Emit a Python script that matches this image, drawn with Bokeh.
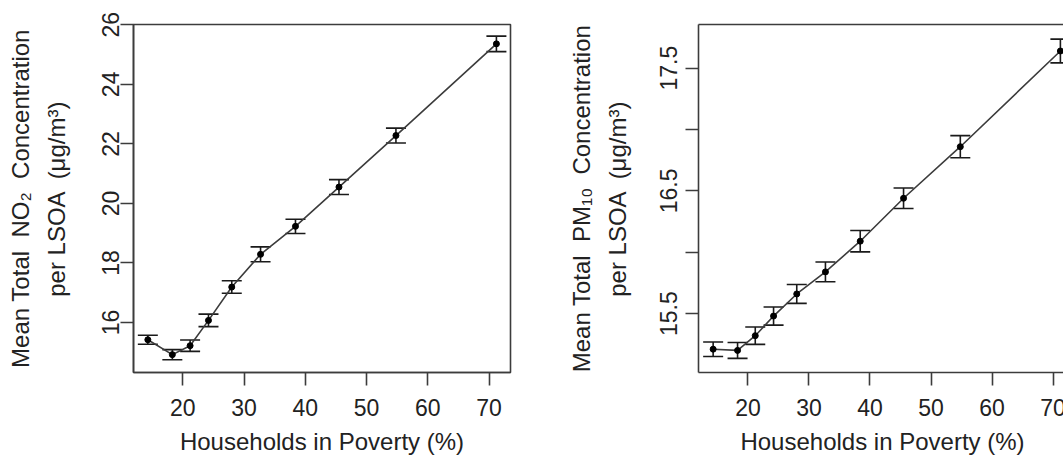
from bokeh.plotting import figure
from bokeh.models import (ColumnDataSource, Whisker, TeeHead, FixedTicker,
                          LinearAxis, Range1d)
from bokeh.layouts import row
from bokeh.embed import file_html
from bokeh.resources import INLINE

# ---- data ----
poverty_pct = [14.3, 18.3, 21.2, 24.2, 28.0, 32.7, 38.4, 45.5, 54.8, 71.2]
no2_mean = [15.42, 14.92, 15.22, 16.07, 17.19, 18.29, 19.23, 20.55, 22.28, 25.36]
no2_err = [0.15, 0.17, 0.19, 0.21, 0.21, 0.25, 0.24, 0.25, 0.25, 0.26]
pm10_mean = [15.21, 15.20, 15.32, 15.48, 15.66, 15.84, 16.09, 16.44, 16.86, 17.64]
pm10_err = [0.059, 0.065, 0.071, 0.074, 0.077, 0.081, 0.087, 0.083, 0.090, 0.097]

x_ticks = [20, 30, 40, 50, 60, 70]
no2_ticks = [16, 18, 20, 22, 24, 26]
pm10_ticks = [15.5, 16.5, 17.5]
pm10_minor = [16.0, 17.0]

x_label = "Households in Poverty (%)"
no2_label = "Mean Total \u00a0NO\u2082 \u00a0Concentration\nper LSOA \u00a0(\u03bcg/m\u00b3)"
pm10_label = "Mean Total \u00a0PM\u2081\u2080 \u00a0Concentration\nper LSOA \u00a0(\u03bcg/m\u00b3)"

FONT = "Liberation Sans"
FS = "23px"
FS_LAB = "24px"
TXT = "#222222"
LINE = "#3c3c3c"


def style_axis(ax):
    ax.axis_line_color = LINE
    ax.axis_line_width = 1.6
    ax.major_tick_line_color = LINE
    ax.major_tick_line_width = 1.6
    ax.major_tick_out = 13
    ax.major_tick_in = 0
    ax.minor_tick_line_color = None
    ax.major_label_text_font = FONT
    ax.major_label_text_font_size = FS
    ax.major_label_text_color = TXT
    ax.axis_label_text_font = FONT
    ax.axis_label_text_font_size = FS_LAB
    ax.axis_label_text_font_style = "normal"
    ax.axis_label_text_color = TXT


def panel(x, y, err, xr, yr, yticks, ylabel, min_left, min_right, frame_w,
          minor=None, full_box=True, ylab_standoff=1, ytitle_standoff=30):
    p = figure(frame_width=frame_w, frame_height=348,
               x_range=Range1d(*xr), y_range=Range1d(*yr),
               output_backend="svg", toolbar_location=None,
               min_border_left=min_left, min_border_right=min_right,
               min_border_top=24, min_border_bottom=10,
               background_fill_color="white", border_fill_color="white")
    p.grid.visible = False

    src = ColumnDataSource(dict(
        x=x, y=y,
        lo=[a - b for a, b in zip(y, err)],
        hi=[a + b for a, b in zip(y, err)]))

    p.line("x", "y", source=src, line_color=LINE, line_width=1.6)
    w = Whisker(base="x", lower="lo", upper="hi", source=src,
                dimension="height", line_color="#1a1a1a", line_width=1.6,
                lower_head=TeeHead(size=20, line_color="#1a1a1a", line_width=1.6),
                upper_head=TeeHead(size=20, line_color="#1a1a1a", line_width=1.6))
    p.add_layout(w)
    p.scatter("x", "y", source=src, size=6, color="black")

    xa = p.below[0]
    ya = p.left[0]
    style_axis(xa)
    style_axis(ya)
    xa.ticker = FixedTicker(ticks=x_ticks)
    if minor:
        ya.ticker = FixedTicker(ticks=yticks, minor_ticks=minor)
        ya.minor_tick_line_color = LINE
        ya.minor_tick_line_width = 1.6
        ya.minor_tick_out = 13
        ya.minor_tick_in = 0
    else:
        ya.ticker = FixedTicker(ticks=yticks)
    xa.axis_label = x_label
    xa.major_label_standoff = 13
    xa.axis_label_standoff = 9
    ya.axis_label = ylabel
    ya.major_label_orientation = "vertical"
    ya.major_label_standoff = ylab_standoff
    ya.axis_label_standoff = ytitle_standoff
    ya.axis_label_text_line_height = 1.3

    if full_box:
        p.outline_line_color = LINE
        p.outline_line_width = 1.6
        p.outline_line_alpha = 1.0
    else:
        p.outline_line_color = None
        top = LinearAxis(ticker=FixedTicker(ticks=[]))
        top.axis_line_color = LINE
        top.axis_line_width = 1.6
        top.major_tick_out = 0
        top.major_tick_in = 0
        top.minor_tick_out = 0
        top.minor_tick_in = 0
        top.major_label_text_font_size = "0px"
        top.major_label_standoff = 0
        top.axis_label_standoff = 0
        p.add_layout(top, "above")
    return p


p1 = panel(poverty_pct, no2_mean, no2_err, (11.96, 73.5), (14.32, 26.01),
           no2_ticks, no2_label, 133, 55, 377)
p2 = panel(poverty_pct, pm10_mean, pm10_err, (11.9, 72.2), (15.02, 17.856),
           pm10_ticks, pm10_label, 130, 0, 368, minor=pm10_minor,
           full_box=False, ylab_standoff=8, ytitle_standoff=27)

layout = row(p1, p2)
open("out.html", "w").write(file_html(layout, INLINE))
